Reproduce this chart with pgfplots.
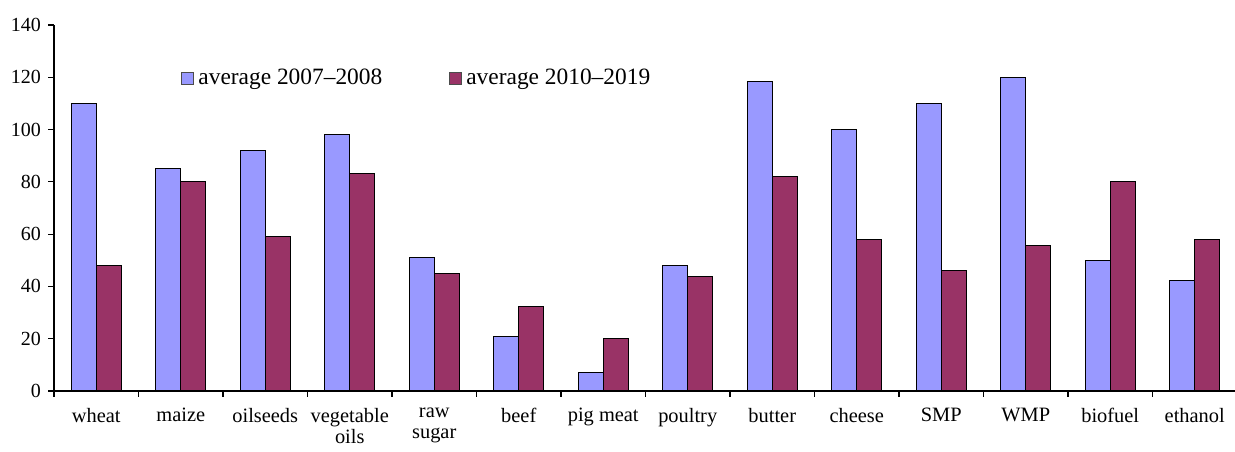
\documentclass[border=0pt]{standalone}
\usepackage{fontspec}
\setmainfont{Liberation Serif}
\usepackage{pgfplots}
\pgfplotsset{compat=1.18}
\definecolor{cblue}{HTML}{9999FF}
\definecolor{cmaroon}{HTML}{993366}
\begin{document}
\begin{tikzpicture}
\begin{axis}[
  name=ax,
  scale only axis,
  width=591.5pt, height=183pt,
  ybar=0pt, bar width=12.5pt,
  xmin=-0.5, xmax=13.5,
  ymin=0, ymax=140,
  ytick={0,20,...,140},
  axis lines*=left,
  axis line style={black, line width=0.6pt},
  tick align=outside,
  major tick length=3pt,
  tick style={black, line width=0.6pt},
  xtick={-0.5,0.5,...,13.5},
  xticklabels={},
  extra x ticks={0,1,...,13},
  extra x tick labels={wheat,maize,oilseeds,{vegetable\\oils},{raw\\sugar},beef,pig meat,poultry,butter,cheese,SMP,WMP,biofuel,ethanol},
  extra x tick style={major tick length=0pt, tick label style={align=center, font=\fontsize{10.2}{10.6}\selectfont, yshift=-5pt}},
  yticklabel style={font=\fontsize{10}{12}\selectfont},
  /pgf/number format/assume math mode=true,
  legend style={draw=none, fill=none, at={(0.1074,0.855)}, anchor=west, inner sep=0pt,
    font=\fontsize{11.7}{13}\selectfont, legend columns=2,
    /tikz/every even column/.append style={column sep=31.5pt}},
  legend image code/.code={\draw[#1, draw=black!70, line width=0.5pt] (0pt,-3pt) rectangle (6pt,3pt);},
]
\addplot[fill=cblue, draw=black, line width=0.5pt] coordinates {
(0,110) (1,85) (2,92) (3,98) (4,51) (5,20.7) (6,7.1) (7,48.1) (8,118.3) (9,100.2) (10,110) (11,119.8) (12,50) (13,42.1)};
\addplot[fill=cmaroon, draw=black, line width=0.5pt] coordinates {
(0,48) (1,80) (2,59) (3,83.2) (4,45) (5,32.3) (6,20.2) (7,43.8) (8,82.1) (9,58) (10,46) (11,55.8) (12,80) (13,58)};
\legend{average 2007--2008, average 2010--2019}
\end{axis}
\pgfresetboundingbox
\path[use as bounding box] ([xshift=-27pt,yshift=-30.5pt]ax.south west) rectangle ([xshift=-1pt,yshift=12.5pt]ax.north east);
\end{tikzpicture}
\end{document}
